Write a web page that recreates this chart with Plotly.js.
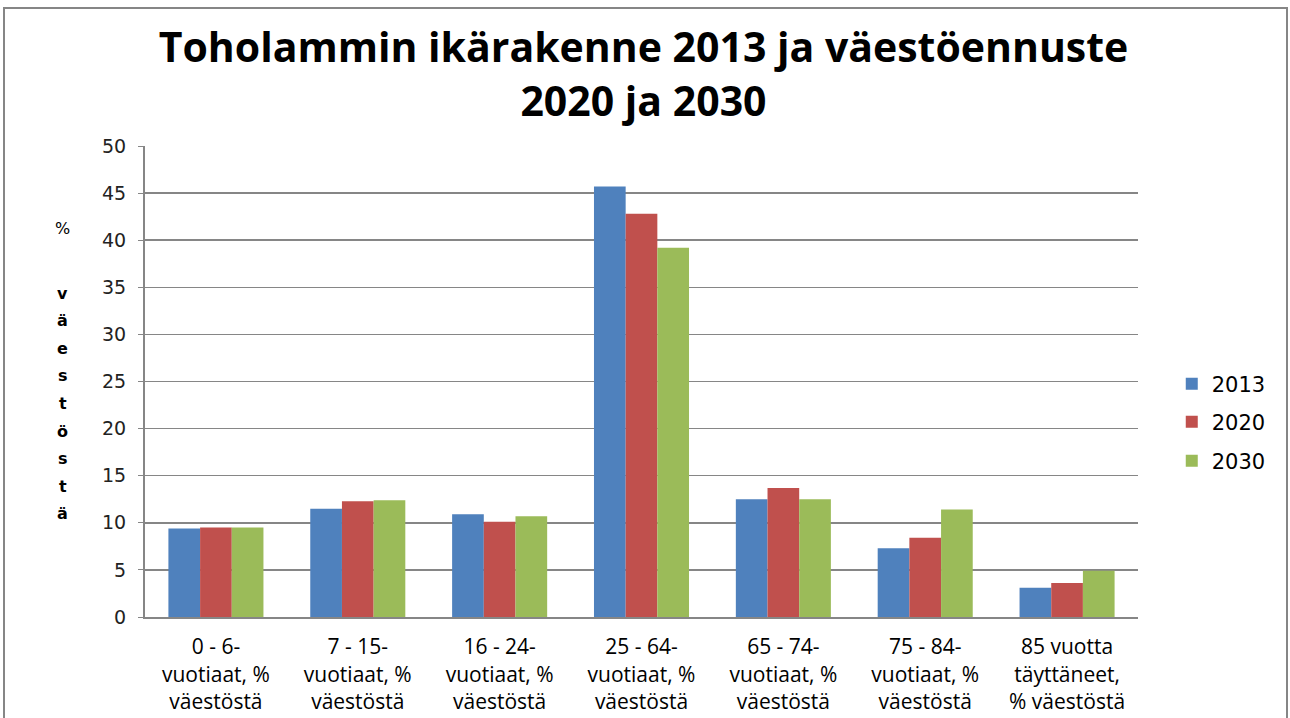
<!DOCTYPE html>
<html><head><meta charset="utf-8">
<script src="https://cdn.plot.ly/plotly-3.0.1.min.js"></script>
<style>body{margin:0;background:#fff}#c{width:1290px;height:718px}</style>
</head><body><div id="c"></div>
<script>
const categories = [
  "0 - 6-<br>vuotiaat, %<br>väestöstä",
  "7 - 15-<br>vuotiaat, %<br>väestöstä",
  "16 - 24-<br>vuotiaat, %<br>väestöstä",
  "25 - 64-<br>vuotiaat, %<br>väestöstä",
  "65 - 74-<br>vuotiaat, %<br>väestöstä",
  "75 - 84-<br>vuotiaat, %<br>väestöstä",
  "85 vuotta<br>täyttäneet,<br>% väestöstä"
];
const v2013 = [9.4, 11.5, 10.9, 45.7, 12.5, 7.3, 3.1];
const v2020 = [9.5, 12.3, 10.1, 42.8, 13.7, 8.4, 3.6];
const v2030 = [9.5, 12.4, 10.7, 39.2, 12.5, 11.4, 4.9];
const seriesNames = ["2013", "2020", "2030"];
const colors = ["#4F81BD", "#C0504D", "#9BBB59"];
const yTitleLetters = ["v","ä","e","s","t","ö","s","t","ä"];

const plotTop = 146, plotBot = 617;
const ph = plotBot - plotTop;
const legendIds = ["legend", "legend2", "legend3"];
const legendY = [384, 422, 461];

const vals = [v2013, v2020, v2030];
const data = vals.map((v, i) => ({
  type: "bar", x: categories, y: v, name: seriesNames[i],
  marker: {color: colors[i]}, legend: legendIds[i], showlegend: true
}));

const annotations = [{
  text: "%", xref: "paper", yref: "paper", x: -0.083, y: (plotBot - 228) / ph,
  showarrow: false, font: {family: "DejaVu Sans", size: 16, color: "#000"}, xanchor: "center", yanchor: "middle"
}];
yTitleLetters.forEach((ch, k) => {
  annotations.push({
    text: "<b>" + ch + "</b>", xref: "paper", yref: "paper", x: -0.083,
    y: (plotBot - (293 + k * 27.6)) / ph, showarrow: false,
    font: {family: "DejaVu Sans", size: 16, color: "#000"}, xanchor: "center", yanchor: "middle"
  });
});

const legendStyle = (k) => ({
  x: 1.034, xanchor: "left", y: (plotBot - legendY[k]) / ph, yanchor: "middle",
  font: {family: "DejaVu Sans", size: 21, color: "#000"},
  itemwidth: 30, bgcolor: "rgba(0,0,0,0)"
});

const layout = {
  width: 1290, height: 718,
  margin: {l: 145, r: 152, t: 146, b: 101},
  paper_bgcolor: "#fff", plot_bgcolor: "#fff",
  showlegend: true,
  title: {
    text: "<b>Toholammin ikärakenne 2013 ja väestöennuste<br>2020 ja 2030</b>",
    font: {family: "Open Sans, sans-serif", size: 41, color: "#000"},
    x: 0.502, xref: "paper", y: 0.913, yanchor: "middle"
  },
  barmode: "group", bargap: 0.33, bargroupgap: 0,
  xaxis: {
    showline: true, linecolor: "#868686", linewidth: 2,
    tickfont: {family: "Open Sans, sans-serif", size: 21, color: "#000"},
    ticks: "", automargin: false, ticklabelstandoff: 10
  },
  yaxis: {
    range: [0, 50], dtick: 5, showline: true, linecolor: "#868686", linewidth: 2,
    gridcolor: "#868686", gridwidth: 1.5, ticks: "outside", ticklen: 5, tickcolor: "#868686",
    tickfont: {family: "DejaVu Sans", size: 19, color: "#222"}, zeroline: false, automargin: false,
    ticklabelstandoff: 8
  },
  legend: legendStyle(0), legend2: legendStyle(1), legend3: legendStyle(2),
  annotations: annotations,
  shapes: [{
    type: "rect", xref: "paper", yref: "paper",
    x0: -141/993, x1: 1142/993, y0: -120/ph, y1: (plotBot - 8) / ph,
    line: {color: "#868686", width: 2}
  }]
};
Plotly.newPlot("c", data, layout, {staticPlot: true});
</script></body></html>
